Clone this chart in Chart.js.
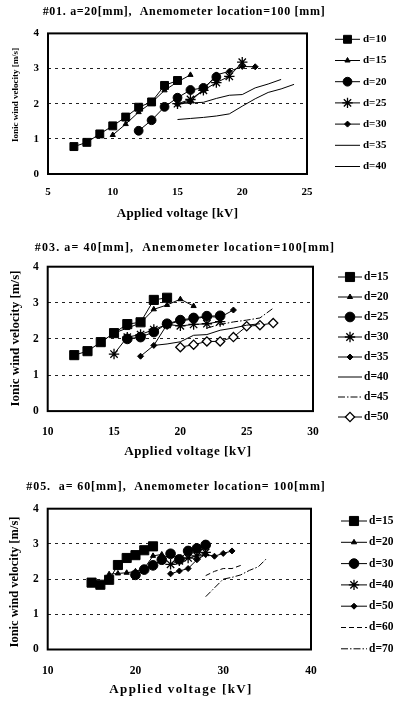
<!DOCTYPE html>
<html>
<head>
<meta charset="utf-8">
<script src="https://cdn.jsdelivr.net/npm/chart.js@4.4.1/dist/chart.umd.min.js"></script>
<style>
body { margin: 0; background: #fff; width: 398px; height: 702px; overflow: hidden; position: relative; }
canvas { position: absolute; left: 0; }
</style>
</head>
<body>
<canvas id="c1" width="398" height="232" style="top:0px"></canvas>
<canvas id="c2" width="398" height="232" style="top:232px"></canvas>
<canvas id="c3" width="398" height="238" style="top:464px"></canvas>
<script>
// ---- data ----
// #01  a = 20 mm
const a20Labels = ['d=10', 'd=15', 'd=20', 'd=25', 'd=30', 'd=35', 'd=40'];
const a20_d10_kv = [7, 8, 9, 10, 11, 12, 13, 14, 15];
const a20_d10_ms = [0.78, 0.9, 1.14, 1.37, 1.62, 1.9, 2.05, 2.52, 2.66];
const a20_d15_kv = [10, 11, 12, 13, 14, 15, 16];
const a20_d15_ms = [1.11, 1.42, 1.76, 2.03, 2.38, 2.62, 2.82];
const a20_d20_kv = [12, 13, 14, 15, 16, 17, 18];
const a20_d20_ms = [1.23, 1.53, 1.91, 2.17, 2.39, 2.45, 2.76];
const a20_d25_kv = [15, 16, 17, 18, 19, 20];
const a20_d25_ms = [2.0, 2.12, 2.38, 2.6, 2.78, 3.18];
const a20_d30_kv = [15, 16, 17, 18, 19, 20, 21];
const a20_d30_ms = [1.99, 2.07, 2.4, 2.82, 2.92, 3.06, 3.05];
const a20_d35_kv = [15, 16, 17, 18, 19, 20, 21, 22, 23];
const a20_d35_ms = [2.0, 2.02, 2.04, 2.15, 2.24, 2.26, 2.45, 2.56, 2.69];
const a20_d40_kv = [15, 16, 17, 18, 19, 20, 21, 22, 23, 24];
const a20_d40_ms = [1.55, 1.58, 1.61, 1.65, 1.71, 1.93, 2.14, 2.32, 2.42, 2.55];

// #03  a = 40 mm
const a40Labels = ['d=15', 'd=20', 'd=25', 'd=30', 'd=35', 'd=40', 'd=45', 'd=50'];
const a40_d15_kv = [12, 13, 14, 15, 16, 17, 18, 19];
const a40_d15_ms = [1.55, 1.66, 1.91, 2.16, 2.41, 2.46, 3.08, 3.14];
const a40_d20_kv = [15, 16, 17, 18, 19, 20, 21];
const a40_d20_ms = [2.16, 2.3, 2.44, 2.82, 2.94, 3.1, 2.91];
const a40_d25_kv = [16, 17, 18, 19, 20, 21, 22, 23];
const a40_d25_ms = [2.0, 2.05, 2.19, 2.42, 2.52, 2.58, 2.63, 2.64];
const a40_d30_kv = [15, 16, 17, 18, 19, 20, 21, 22, 23];
const a40_d30_ms = [1.58, 2.05, 2.12, 2.26, 2.4, 2.36, 2.4, 2.42, 2.48];
const a40_d35_kv = [17, 18, 19, 20, 21, 22, 23, 24];
const a40_d35_ms = [1.52, 1.82, 2.4, 2.5, 2.55, 2.62, 2.6, 2.8];
const a40_d40_kv = [18, 19, 20, 21, 22, 23, 24, 25, 26];
const a40_d40_ms = [1.82, 1.86, 1.92, 2.1, 2.12, 2.24, 2.3, 2.38, 2.42];
const a40_d45_kv = [22, 23, 24, 25, 26, 27];
const a40_d45_ms = [2.3, 2.4, 2.47, 2.52, 2.58, 2.85];
const a40_d50_kv = [20, 21, 22, 23, 24, 25, 26, 27];
const a40_d50_ms = [1.77, 1.84, 1.93, 1.93, 2.05, 2.35, 2.38, 2.44];

// #05  a = 60 mm
const a60Labels = ['d=15', 'd=20', 'd=30', 'd=40', 'd=50', 'd=60', 'd=70'];
const a60_d15_kv = [15, 16, 17, 18, 19, 20, 21, 22];
const a60_d15_ms = [1.9, 1.84, 1.98, 2.4, 2.6, 2.68, 2.82, 2.93];
const a60_d20_kv = [17, 18, 19, 20, 21, 22, 23];
const a60_d20_ms = [2.14, 2.16, 2.18, 2.22, 2.3, 2.66, 2.7];
const a60_d30_kv = [20, 21, 22, 23, 24, 25, 26, 27, 28];
const a60_d30_ms = [2.12, 2.27, 2.39, 2.55, 2.72, 2.56, 2.8, 2.87, 2.97];
const a60_d40_kv = [24, 25, 26, 27, 28];
const a60_d40_ms = [2.42, 2.52, 2.6, 2.66, 2.76];
const a60_d50_kv = [24, 25, 26, 27, 28, 29, 30, 31];
const a60_d50_ms = [2.15, 2.23, 2.3, 2.55, 2.7, 2.65, 2.73, 2.8];
const a60_d60_kv = [28, 29, 30, 31, 32];
const a60_d60_ms = [2.1, 2.22, 2.3, 2.3, 2.39];
const a60_d70_kv = [28, 29, 30, 31, 32, 33, 34, 35];
const a60_d70_ms = [1.5, 1.75, 2.0, 2.05, 2.12, 2.25, 2.35, 2.6];

const yTicks = [0, 1, 2, 3, 4];
const xTitle = 'Applied voltage [kV]';
const yTitle = 'Ionic wind velocity [m/s]';

// ---- look ----
const SERIF = '"Liberation Serif", "DejaVu Serif", serif';
Chart.defaults.font.family = SERIF;
Chart.defaults.font.weight = 'bold';
Chart.defaults.color = '#000';

// marker kinds -> chart.js point options
function look(kind, big) {
    const s = big || 1;
    switch (kind) {
        case 'square': return { pointStyle: 'rect', pointRadius: 5.6 * s, pointBackgroundColor: '#000', pointBorderWidth: 1 };
        case 'triangle': return { pointStyle: 'triangle', pointRadius: 3, pointBackgroundColor: '#000', pointBorderWidth: 1 };
        case 'circle': return { pointStyle: 'circle', pointRadius: 4.4 * s, pointBackgroundColor: '#000', pointBorderWidth: 1 };
        case 'star': return { pointStyle: 'star', pointRadius: 5.2, pointBackgroundColor: '#000', pointBorderWidth: 1.3 };
        case 'diamond': return { pointStyle: 'rectRot', pointRadius: 3, pointBackgroundColor: '#000', pointBorderWidth: 1 };
        case 'open': return { pointStyle: 'rectRot', pointRadius: 4.6, pointBackgroundColor: '#fff', pointBorderWidth: 1.3 };
        case 'dashed': return { pointRadius: 0, borderDash: [5, 3] };
        case 'dashdot': return { pointRadius: 0, borderDash: [7, 2, 1.5, 2] };
        default: return { pointRadius: 0 };
    }
}

function series(label, kv, ms, kind, big) {
    return Object.assign({
        label: label,
        data: kv.map((v, i) => ({ x: v, y: ms[i] })),
        borderColor: '#000',
        borderWidth: 1,
        pointBorderColor: '#000',
        pointHoverRadius: 0,
        tension: 0,
        fill: false
    }, look(kind, big));
}

function spacedText(ctx, text, x, y, font, spacing) {
    ctx.font = font;
    ctx.letterSpacing = spacing + 'px';
    ctx.fillText(text, x, y);
    ctx.letterSpacing = '0px';
}

// frame, titles and legend drawn around the plot
const decor = {
    id: 'decor',
    afterDraw(chart, args, o) {
        const ctx = chart.ctx;
        const a = chart.chartArea;
        ctx.save();
        ctx.strokeStyle = '#000';
        ctx.lineWidth = 2;
        ctx.strokeRect(a.left, a.top, a.right - a.left, a.bottom - a.top);

        ctx.fillStyle = '#000';
        ctx.textAlign = 'center';
        ctx.textBaseline = 'middle';
        spacedText(ctx, o.title, o.titleX, o.titleY, o.titleFont, o.titleSpacing);
        spacedText(ctx, xTitle, o.xTitleX, o.xTitleY, o.xTitleFont, o.xTitleSpacing);
        ctx.save();
        ctx.translate(o.yTitleX, o.yTitleY);
        ctx.rotate(-Math.PI / 2);
        spacedText(ctx, yTitle, 0, 0, o.yTitleFont, 0);
        ctx.restore();

        chart.data.datasets.forEach((ds, i) => {
            const y = o.legendY + i * o.legendStep;
            ctx.strokeStyle = '#000';
            ctx.lineWidth = 1;
            ctx.setLineDash(ds.borderDash || []);
            ctx.beginPath();
            ctx.moveTo(o.lineX1, y);
            ctx.lineTo(o.lineX2, y);
            ctx.stroke();
            ctx.setLineDash([]);
            if (ds.pointRadius > 0) {
                ctx.fillStyle = ds.pointBackgroundColor;
                ctx.lineWidth = ds.pointBorderWidth;
                Chart.helpers.drawPoint(ctx, {
                    pointStyle: ds.pointStyle,
                    radius: ds.pointRadius,
                    borderWidth: ds.pointBorderWidth,
                    rotation: 0
                }, (o.lineX1 + o.lineX2) / 2, y);
            }
            ctx.fillStyle = '#000';
            ctx.font = o.legendFont;
            ctx.textAlign = 'left';
            ctx.fillText(ds.label, o.textX, y);
        });
        ctx.restore();
    }
};

function makeChart(id, datasets, c) {
    const h = document.getElementById(id).height;
    return new Chart(document.getElementById(id), {
        type: 'line',
        data: { datasets: datasets },
        options: {
            responsive: false,
            animation: false,
            events: [],
            layout: { padding: { top: c.top, right: 398 - c.right, left: 0, bottom: 0 } },
            plugins: {
                legend: { display: false },
                tooltip: { enabled: false },
                decor: c.decor
            },
            scales: {
                x: {
                    type: 'linear',
                    min: c.xmin, max: c.xmax,
                    ticks: { stepSize: c.xstep, padding: c.xpad, font: { size: c.tickSize } },
                    grid: { display: false, drawTicks: false },
                    border: { display: false },
                    afterFit: s => { s.height = h - c.bottom; }
                },
                y: {
                    min: 0, max: 4,
                    afterBuildTicks: s => { s.ticks = yTicks.map(v => ({ value: v })); },
                    ticks: { padding: 9, font: { size: c.tickSize } },
                    grid: {
                        drawTicks: false,
                        color: g => (g.tick && g.tick.value > 0 && g.tick.value < 4) ? '#222' : 'rgba(0,0,0,0)',
                        lineWidth: 1
                    },
                    border: { display: false, dash: [3, 4] },
                    afterFit: s => { s.width = c.left; }
                }
            }
        },
        plugins: [decor]
    });
}

makeChart('c1', [
    series(a20Labels[0], a20_d10_kv, a20_d10_ms, 'square'),
    series(a20Labels[1], a20_d15_kv, a20_d15_ms, 'triangle'),
    series(a20Labels[2], a20_d20_kv, a20_d20_ms, 'circle'),
    series(a20Labels[3], a20_d25_kv, a20_d25_ms, 'star'),
    series(a20Labels[4], a20_d30_kv, a20_d30_ms, 'diamond'),
    series(a20Labels[5], a20_d35_kv, a20_d35_ms, 'solid'),
    series(a20Labels[6], a20_d40_kv, a20_d40_ms, 'solid')
], {
    top: 33.4, bottom: 174, left: 48, right: 307,
    xmin: 5, xmax: 25, xstep: 5, xpad: 12, tickSize: 11,
    decor: {
        title: '#01. a=20[mm],  Anemometer location=100 [mm]',
        titleX: 184, titleY: 12, titleFont: 'bold 12px ' + SERIF, titleSpacing: 0.7,
        xTitleX: 177.5, xTitleY: 214, xTitleFont: 'bold 13px ' + SERIF, xTitleSpacing: 0.3,
        yTitleX: 16, yTitleY: 95, yTitleFont: 'bold 9px ' + SERIF,
        legendY: 39.3, legendStep: 21.2, lineX1: 335, lineX2: 360, textX: 363,
        legendFont: 'bold 11px ' + SERIF
    }
});

makeChart('c2', [
    series(a40Labels[0], a40_d15_kv, a40_d15_ms, 'square', 1.15),
    series(a40Labels[1], a40_d20_kv, a40_d20_ms, 'triangle'),
    series(a40Labels[2], a40_d25_kv, a40_d25_ms, 'circle', 1.1),
    series(a40Labels[3], a40_d30_kv, a40_d30_ms, 'star'),
    series(a40Labels[4], a40_d35_kv, a40_d35_ms, 'diamond'),
    series(a40Labels[5], a40_d40_kv, a40_d40_ms, 'solid'),
    series(a40Labels[6], a40_d45_kv, a40_d45_ms, 'dashdot'),
    series(a40Labels[7], a40_d50_kv, a40_d50_ms, 'open')
], {
    top: 34.7, bottom: 179.1, left: 47.7, right: 313,
    xmin: 10, xmax: 30, xstep: 5, xpad: 14, tickSize: 11.5,
    decor: {
        title: '#03. a= 40[mm],  Anemometer location=100[mm]',
        titleX: 185, titleY: 16, titleFont: 'bold 12px ' + SERIF, titleSpacing: 1.1,
        xTitleX: 188, xTitleY: 220, xTitleFont: 'bold 13px ' + SERIF, xTitleSpacing: 0.6,
        yTitleX: 16, yTitleY: 106.5, yTitleFont: 'bold 13px ' + SERIF,
        legendY: 45, legendStep: 20, lineX1: 338, lineX2: 362, textX: 364,
        legendFont: 'bold 11.5px ' + SERIF
    }
});

makeChart('c3', [
    series(a60Labels[0], a60_d15_kv, a60_d15_ms, 'square', 1.15),
    series(a60Labels[1], a60_d20_kv, a60_d20_ms, 'triangle'),
    series(a60Labels[2], a60_d30_kv, a60_d30_ms, 'circle', 1.1),
    series(a60Labels[3], a60_d40_kv, a60_d40_ms, 'star'),
    series(a60Labels[4], a60_d50_kv, a60_d50_ms, 'diamond'),
    series(a60Labels[5], a60_d60_kv, a60_d60_ms, 'dashed'),
    series(a60Labels[6], a60_d70_kv, a60_d70_ms, 'dashdot')
], {
    top: 44.7, bottom: 185.5, left: 47.7, right: 311,
    xmin: 10, xmax: 40, xstep: 10, xpad: 14.5, tickSize: 11.5,
    decor: {
        title: '#05.  a= 60[mm],  Anemometer location= 100[mm]',
        titleX: 176, titleY: 23, titleFont: 'bold 12px ' + SERIF, titleSpacing: 0.9,
        xTitleX: 181, xTitleY: 226, xTitleFont: 'bold 13px ' + SERIF, xTitleSpacing: 1.4,
        yTitleX: 15, yTitleY: 118, yTitleFont: 'bold 12.5px ' + SERIF,
        legendY: 57, legendStep: 21.3, lineX1: 341, lineX2: 367, textX: 369,
        legendFont: 'bold 11.5px ' + SERIF
    }
});
</script>
</body>
</html>
